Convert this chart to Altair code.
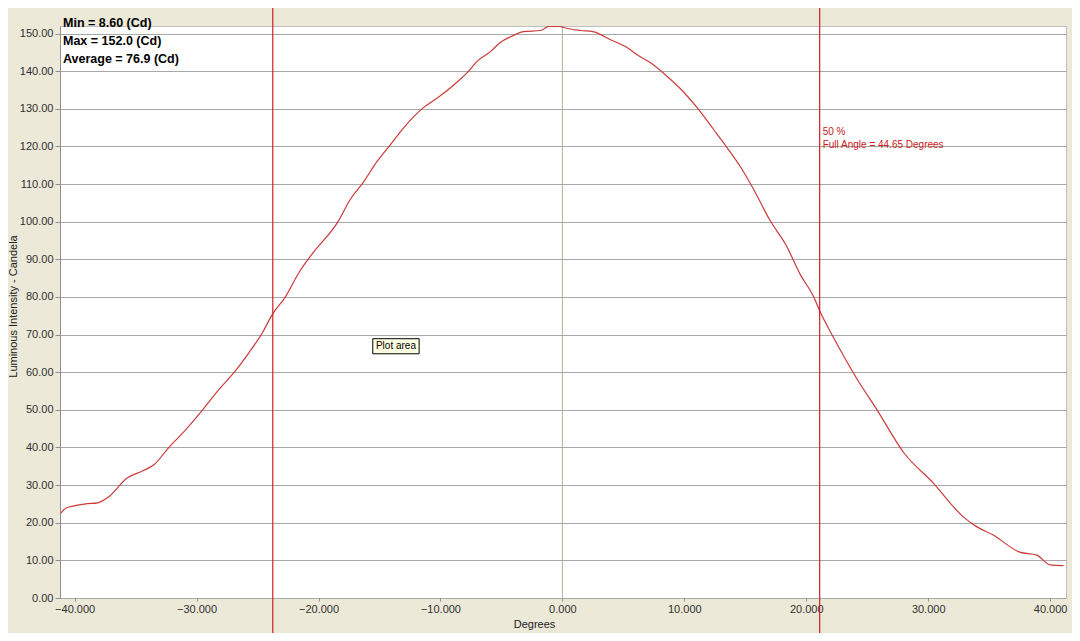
import altair as alt
import pandas as pd

# ---- data ----
degrees = [-41.15, -40.7, -39.1, -38.1, -37.2, -35.7, -34.4, -33.5, -32.3, -30.9,
           -29.5, -28.2, -26.8, -25.7, -24.6, -23.8, -22.7, -21.6, -20.5, -18.4,
           -17.4, -16.3, -15.2, -14.1, -13.0, -11.4, -10.2, -8.6, -7.8, -7.0,
           -5.9, -5.1, -4.0, -3.2, -1.8, -1.1, -0.2, 0.1, 1.5, 2.5,
           3.9, 5.3, 6.1, 7.2, 8.6, 9.9, 11.1, 12.4, 13.5, 14.6,
           15.7, 17.0, 18.4, 19.5, 20.6, 21.1, 22.2, 24.2, 25.8, 28.0,
           30.4, 32.9, 34.0, 35.3, 37.5, 38.9, 40.0, 41.1]
candela = [22.5, 23.9, 25.0, 25.3, 26.9, 31.9, 33.8, 35.4, 39.9, 44.7,
           50.0, 55.3, 60.4, 65.2, 70.5, 75.3, 80.1, 86.5, 91.5, 100.0,
           105.9, 110.6, 116.0, 120.5, 125.0, 130.3, 133.0, 137.2, 139.6, 142.6,
           145.2, 147.6, 149.5, 150.5, 150.8, 151.9, 151.9, 151.6, 150.8, 150.5,
           148.4, 146.3, 144.4, 142.3, 138.6, 134.6, 130.1, 124.5, 119.7, 114.6,
           108.5, 100.5, 93.4, 86.0, 80.1, 76.3, 69.4, 58.0, 50.0, 38.6,
           30.6, 21.5, 18.9, 16.8, 12.2, 11.4, 8.8, 8.6]
half_angle_lines = [-23.75, 21.1]
stats_lines = ["Min = 8.60 (Cd)", "Max = 152.0 (Cd)", "Average = 76.9 (Cd)"]
annot_lines = ["50 %", "Full Angle = 44.65 Degrees"]
y_ticks = list(range(0, 151, 10))
x_ticks = [-40, -30, -20, -10, 0, 10, 20, 30, 40]

FONT = "Liberation Sans"
RED = "#cc2020"

curve = pd.DataFrame({"deg": degrees, "cd": candela})
xs = alt.Scale(domain=[-41.2, 41.3], nice=False, zero=False)
ys = alt.Scale(domain=[0, 152], nice=False, zero=False)

x_axis = alt.Axis(values=x_ticks, format=".3f", title="Degrees", grid=False,
                  domain=False, tickSize=3, tickColor="#909090",
                  labelPadding=2, labelFont=FONT, labelFontSize=11,
                  labelColor="#303030", titleFont=FONT, titleFontSize=11,
                  titleFontWeight="normal", titleColor="#202020",
                  titlePadding=4, titleX=474)
y_axis = alt.Axis(values=y_ticks, format=".2f", labelOverlap=False,
                  title="Luminous Intensity - Candela", grid=True,
                  gridColor="#a8a8a8", gridWidth=1, domainColor="#909090",
                  tickSize=5, tickColor="#909090", labelPadding=2,
                  labelFont=FONT, labelFontSize=11, labelColor="#303030",
                  titleFont=FONT, titleFontSize=11, titleFontWeight="normal",
                  titleColor="#202020", titleX=-47, titleY=280,
                  titleAlign="center", titleBaseline="middle", titleAngle=270)


def X(f):
    return alt.X(f, type="quantitative", scale=xs, axis=x_axis)


def Y(f):
    return alt.Y(f, type="quantitative", scale=ys, axis=y_axis)


line = alt.Chart(curve).mark_line(color="#cc3a3a", strokeWidth=1.2, clip=True,
                                  interpolate="monotone").encode(x=X("deg"), y=Y("cd"))

zero_rule = alt.Chart(pd.DataFrame({"deg": [0]})).mark_rule(
    color="#b0b0a0", strokeWidth=1).encode(x=X("deg"))

red_rules = alt.Chart(pd.DataFrame({"deg": half_angle_lines})).mark_rule(
    color=RED, strokeWidth=1.2, clip=False).encode(
    x=X("deg"), y=alt.value(-18), y2=alt.value(609))

annot = alt.Chart(pd.DataFrame({
    "deg": [half_angle_lines[1]] * 2, "cd": [123.9, 120.5], "t": annot_lines})).mark_text(
    color=RED, font=FONT, fontSize=10, align="left", baseline="middle", dx=3).encode(
    x=X("deg"), y=Y("cd"), text="t:N")

stats = alt.Chart(pd.DataFrame({"k": [0]})).mark_text(
    color="black", font=FONT, fontSize=12.5, fontWeight="bold", align="left",
    baseline="top", lineHeight=18, clip=False, text=stats_lines).encode(
    x=alt.value(3), y=alt.value(-9.5))

box = alt.Chart(pd.DataFrame({"deg": [-15.55], "deg2": [-11.75], "cd": [64.9], "cd2": [68.9]})).mark_rect(
    fill="#ffffe1", stroke="black", strokeWidth=1).encode(
    x=X("deg"), x2="deg2:Q", y=Y("cd"), y2="cd2:Q")
box_text = alt.Chart(pd.DataFrame({"deg": [-13.65], "cd": [66.9], "t": ["Plot area"]})).mark_text(
    color="black", font=FONT, fontSize=10, align="center", baseline="middle").encode(
    x=X("deg"), y=Y("cd"), text="t:N")

chart = alt.layer(zero_rule, line, red_rules, annot, box, box_text, stats).properties(
    width=1006, height=572, background="#ECE9D8",
    autosize=alt.AutoSizeParams(type="none"),
    padding={"left": 52, "top": 18, "right": 6, "bottom": 35},
).configure_view(fill="white", stroke="#c0c0c0", strokeWidth=1)

chart.save("out.html", embed_options={"renderer": "svg", "actions": False})
